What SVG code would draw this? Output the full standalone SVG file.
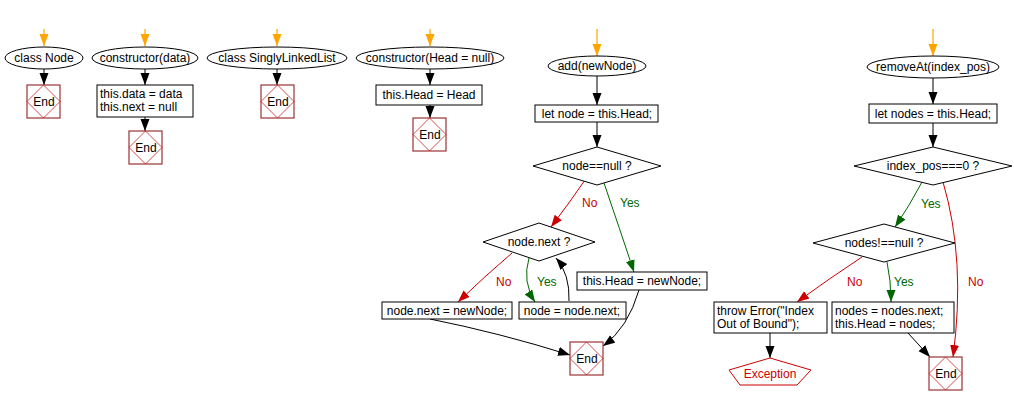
<svg xmlns="http://www.w3.org/2000/svg" width="1014" height="404" viewBox="0 0 1014 404">
<defs>
<style>
text{font-family:"Liberation Sans",Arial,sans-serif;font-size:12px;fill:#000}
.c{text-anchor:middle}
.n{fill:#fff;stroke:#000;stroke-width:1}
.endbox{fill:#fff;stroke:#993333;stroke-width:1.2}
.endd{fill:none;stroke:#cc2222;stroke-width:0.8}
.e{fill:none;stroke:#000;stroke-width:1}
.o{fill:none;stroke:#ffa500;stroke-width:1.2}
.r{fill:none;stroke:#cc0000;stroke-width:1}
.g{fill:none;stroke:#006600;stroke-width:1}
.lr{fill:#cc0000}
.lg{fill:#006600}
</style>
<marker id="ab" markerUnits="userSpaceOnUse" markerWidth="13" markerHeight="10" refX="12" refY="4.5" orient="auto"><path d="M0,0 L12,4.5 L0,9 z" fill="#000"/></marker>
<marker id="ao" markerUnits="userSpaceOnUse" markerWidth="13" markerHeight="10" refX="12" refY="4.5" orient="auto"><path d="M0,0 L12,4.5 L0,9 z" fill="#ffa500"/></marker>
<marker id="ar" markerUnits="userSpaceOnUse" markerWidth="13" markerHeight="10" refX="12" refY="4.5" orient="auto"><path d="M0,0 L12,4.5 L0,9 z" fill="#cc0000"/></marker>
<marker id="ag" markerUnits="userSpaceOnUse" markerWidth="13" markerHeight="10" refX="12" refY="4.5" orient="auto"><path d="M0,0 L12,4.5 L0,9 z" fill="#006600"/></marker>
</defs>

<g id="connectors">
<line class="o" x1="44" y1="29" x2="44" y2="46" marker-end="url(#ao)"/>
<line class="e" x1="44" y1="69" x2="44" y2="85" marker-end="url(#ab)"/>
<line class="o" x1="145" y1="29" x2="145" y2="46" marker-end="url(#ao)"/>
<line class="e" x1="145" y1="69" x2="145" y2="85" marker-end="url(#ab)"/>
<line class="e" x1="145" y1="117" x2="145" y2="131" marker-end="url(#ab)"/>
<line class="o" x1="277" y1="29" x2="277" y2="46" marker-end="url(#ao)"/>
<line class="e" x1="277" y1="69" x2="277" y2="85" marker-end="url(#ab)"/>
<line class="o" x1="430" y1="29" x2="430" y2="46" marker-end="url(#ao)"/>
<line class="e" x1="430" y1="69" x2="430" y2="85" marker-end="url(#ab)"/>
<line class="e" x1="430" y1="105" x2="430" y2="118" marker-end="url(#ab)"/>

<line class="o" x1="597" y1="29" x2="597" y2="56" marker-end="url(#ao)"/>
<line class="e" x1="597" y1="76" x2="597" y2="105" marker-end="url(#ab)"/>
<line class="e" x1="597" y1="122" x2="597" y2="147" marker-end="url(#ab)"/>
<path class="r" d="M585,180 Q570,202 551,227" marker-end="url(#ar)"/>
<path class="g" d="M604,183 Q620,230 634,272" marker-end="url(#ag)"/>
<path class="r" d="M512,253 Q485,276 458,302" marker-end="url(#ar)"/>
<path class="g" d="M529,258 Q522,282 535,302" marker-end="url(#ag)"/>
<path class="e" d="M569,301 Q570,274 556,258" marker-end="url(#ab)"/>
<path class="e" d="M430,319 Q500,333 570,355" marker-end="url(#ab)"/>
<path class="e" d="M639,290 Q628,328 603,346" marker-end="url(#ab)"/>

<line class="o" x1="933" y1="29" x2="933" y2="56" marker-end="url(#ao)"/>
<line class="e" x1="933" y1="78" x2="933" y2="104" marker-end="url(#ab)"/>
<line class="e" x1="933" y1="123" x2="933" y2="147" marker-end="url(#ab)"/>
<path class="g" d="M922,182 Q910,205 895,227" marker-end="url(#ag)"/>
<path class="r" d="M943,182 Q966,260 953,357" marker-end="url(#ar)"/>
<path class="r" d="M862,257 Q830,278 797,302" marker-end="url(#ar)"/>
<path class="g" d="M887,262 Q891,280 891,302" marker-end="url(#ag)"/>
<line class="e" x1="770" y1="333" x2="770" y2="358" marker-end="url(#ab)"/>
<line class="e" x1="908" y1="333" x2="930" y2="357" marker-end="url(#ab)"/>

<text class="lr" x="582" y="207">No</text>
<text class="lg" x="620" y="207">Yes</text>
<text class="lr" x="496" y="286">No</text>
<text class="lg" x="537" y="286">Yes</text>
<text class="lg" x="921" y="208">Yes</text>
<text class="lr" x="968" y="286">No</text>
<text class="lr" x="847" y="286">No</text>
<text class="lg" x="894" y="286">Yes</text>
</g>

<g id="classNode">
<ellipse class="n" cx="44" cy="58" rx="39" ry="11"/>
<text class="c" x="44" y="62">class Node</text>
</g>
<g id="end1">
<rect class="endbox" x="27" y="85" width="33" height="33"/>
<polygon class="endd" points="43.5,85 60,101.5 43.5,118 27,101.5"/>
<text class="c" x="44" y="106">End</text>
</g>

<g id="ctorData">
<ellipse class="n" cx="145" cy="58" rx="53" ry="11"/>
<text class="c" x="145" y="62">constructor(data)</text>
</g>
<g id="assignData">
<rect class="n" x="97" y="85" width="96" height="32"/>
<text x="100" y="98">this.data = data</text>
<text x="100" y="111">this.next = null</text>
</g>
<g id="end2">
<rect class="endbox" x="129" y="131" width="33" height="33"/>
<polygon class="endd" points="145.5,131 162,147.5 145.5,164 129,147.5"/>
<text class="c" x="146" y="152">End</text>
</g>

<g id="classSLL">
<ellipse class="n" cx="277" cy="58" rx="70" ry="11"/>
<text class="c" x="277" y="62">class SinglyLinkedList</text>
</g>
<g id="end3">
<rect class="endbox" x="261" y="85" width="33" height="33"/>
<polygon class="endd" points="277.5,85 294,101.5 277.5,118 261,101.5"/>
<text class="c" x="278" y="106">End</text>
</g>

<g id="ctorHead">
<ellipse class="n" cx="430" cy="58" rx="74" ry="11"/>
<text class="c" x="430" y="62">constructor(Head = null)</text>
</g>
<g id="assignHead">
<rect class="n" x="376" y="85" width="106" height="20"/>
<text class="c" x="429" y="99">this.Head = Head</text>
</g>
<g id="end4">
<rect class="endbox" x="413" y="118" width="33" height="33"/>
<polygon class="endd" points="429.5,118 446,134.5 429.5,151 413,134.5"/>
<text class="c" x="430" y="139">End</text>
</g>

<g id="addStart">
<ellipse class="n" cx="597" cy="66" rx="49" ry="10"/>
<text class="c" x="597" y="70">add(newNode)</text>
</g>
<g id="letNode">
<rect class="n" x="535" y="105" width="123" height="17"/>
<text class="c" x="597" y="118">let node = this.Head;</text>
</g>
<g id="nodeNull">
<polygon class="n" points="597,147 661,166 597,185 533,166"/>
<text class="c" x="597" y="170">node==null ?</text>
</g>
<g id="nodeNext">
<polygon class="n" points="539,223 595,242 539,261 483,242"/>
<text class="c" x="539" y="246">node.next ?</text>
</g>
<g id="setNext">
<rect class="n" x="382" y="302" width="130" height="17"/>
<text class="c" x="447" y="315">node.next = newNode;</text>
</g>
<g id="advance">
<rect class="n" x="519" y="302" width="107" height="17"/>
<text class="c" x="572" y="315">node = node.next;</text>
</g>
<g id="setHead">
<rect class="n" x="577" y="272" width="130" height="18"/>
<text class="c" x="642" y="285">this.Head = newNode;</text>
</g>
<g id="end5">
<rect class="endbox" x="570" y="342" width="33" height="33"/>
<polygon class="endd" points="586.5,342 603,358.5 586.5,375 570,358.5"/>
<text class="c" x="587" y="363">End</text>
</g>

<g id="removeStart">
<ellipse class="n" cx="933" cy="67" rx="66" ry="11"/>
<text class="c" x="933" y="71">removeAt(index_pos)</text>
</g>
<g id="letNodes">
<rect class="n" x="869" y="104" width="128" height="19"/>
<text class="c" x="933" y="118">let nodes = this.Head;</text>
</g>
<g id="idxZero">
<polygon class="n" points="933,147 1012,166 933,185 854,166"/>
<text class="c" x="933" y="170">index_pos===0 ?</text>
</g>
<g id="nodesNotNull">
<polygon class="n" points="884,224 955,243 884,262 813,243"/>
<text class="c" x="884" y="247">nodes!==null ?</text>
</g>
<g id="throwErr">
<rect class="n" x="714" y="302" width="113" height="31"/>
<text x="717" y="315">throw Error("Index</text>
<text x="717" y="328">Out of Bound");</text>
</g>
<g id="advanceHead">
<rect class="n" x="832" y="302" width="122" height="31"/>
<text x="835" y="315">nodes = nodes.next;</text>
<text x="835" y="328">this.Head = nodes;</text>
</g>
<g id="exception">
<polygon points="770,358 811,370 797,385 740,385 729,370" fill="#fff" stroke="#cc0000" stroke-width="1"/>
<text class="c lr" x="770" y="378">Exception</text>
</g>
<g id="end6">
<rect class="endbox" x="929" y="357" width="33" height="33"/>
<polygon class="endd" points="945.5,357 962,373.5 945.5,390 929,373.5"/>
<text class="c" x="946" y="378">End</text>
</g>
</svg>
